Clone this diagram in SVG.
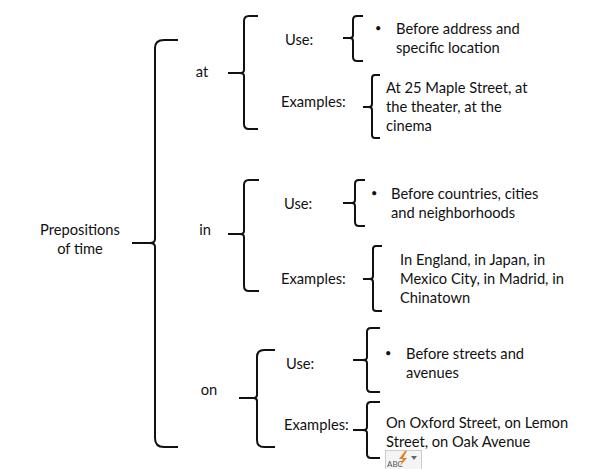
<svg xmlns="http://www.w3.org/2000/svg" width="596" height="469" viewBox="0 0 596 469">
<style>
text{font-family:"Lato","Open Sans","Liberation Sans",sans-serif;font-size:14.7px;fill:#111}
.m{text-anchor:middle}
.d{font-size:11px}
.b{fill:none;stroke:#111;stroke-width:2;stroke-linecap:butt;stroke-linejoin:round}
</style>
<rect width="596" height="469" fill="#fff"/>
<g id="connectors">
<path class="b" d="M178 40H164Q155 40 155 48V239Q155 243 150 243H132M150 243Q155 243 155 247V438Q155 447 164 447H178"/>
<path class="b" d="M258 16H249Q244 16 244 21V70Q244 73 240 73H228M240 73Q244 73 244 76V124Q244 129 249 129H258"/>
<path class="b" d="M363 16H357Q353 16 353 20V35Q353 38 350 38H343M350 38Q353 38 353 41V57Q353 61 357 61H363"/>
<path class="b" d="M380 75H375Q372 75 372 78V104Q372 107 369 107H363M369 107Q372 107 372 110V135Q372 138 375 138H380"/>
<path class="b" d="M259 180H249Q244 180 244 185V231Q244 234 240 234H228M240 234Q244 234 244 237V286Q244 291 249 291H259"/>
<path class="b" d="M365 180H359Q355 180 355 184V200Q355 203 352 203H343M352 203Q355 203 355 206V222Q355 226 359 226H365"/>
<path class="b" d="M382 246H376Q373 246 373 249V276Q373 279 370 279H363M370 279Q373 279 373 282V308Q373 311 376 311H382"/>
<path class="b" d="M275 350H264Q257 350 257 357V395Q257 398 253 398H239M253 398Q257 398 257 401V440Q257 447 264 447H275"/>
<path class="b" d="M380 328H371Q367 328 367 332V357Q367 360 363 360H353M363 360Q367 360 367 363V388Q367 392 371 392H380"/>
<path class="b" d="M380 402H371Q367 402 367 406V427Q367 430 363 430H353M363 430Q367 430 367 433V454Q367 458 371 458H380"/>
</g>
<g id="root"><text class="m" x="80" y="235">Prepositions</text><text class="m" x="80" y="254">of time</text></g>
<g id="at"><text class="m" x="202" y="77">at</text></g>
<g id="in"><text class="m" x="205" y="235">in</text></g>
<g id="on"><text class="m" x="209" y="395">on</text></g>
<g id="at-use"><text x="285" y="45">Use:</text></g>
<g id="at-examples"><text x="281" y="107">Examples:</text></g>
<g id="in-use"><text x="284" y="209">Use:</text></g>
<g id="in-examples"><text x="281" y="284">Examples:</text></g>
<g id="on-use"><text x="286" y="369">Use:</text></g>
<g id="on-examples"><text x="284" y="430">Examples:</text></g>
<g id="at-use-text"><text class="d" x="375" y="32">•</text><text x="396" y="34">Before address and</text><text x="396" y="53">specific location</text></g>
<g id="at-examples-text"><text x="386" y="93">At 25 Maple Street, at</text><text x="386" y="112">the theater, at the</text><text x="386" y="131">cinema</text></g>
<g id="in-use-text"><text class="d" x="371" y="197">•</text><text x="391" y="199">Before countries, cities</text><text x="391" y="218">and neighborhoods</text></g>
<g id="in-examples-text"><text x="400" y="265">In England, in Japan, in</text><text x="400" y="284">Mexico City, in Madrid, in</text><text x="400" y="303">Chinatown</text></g>
<g id="on-use-text"><text class="d" x="385" y="357">•</text><text x="406" y="359">Before streets and</text><text x="406" y="378">avenues</text></g>
<g id="on-examples-text"><text x="386" y="428">On Oxford Street, on Lemon</text><text x="386" y="447">Street, on Oak Avenue</text></g>
<g id="autocorrect-icon">
<rect x="385.500" y="450.500" width="36" height="22" fill="#f4f4f4" stroke="#ccc"/>
<text x="387" y="467" style="font-size:8px;fill:#555">ABC</text>
<path d="M405 451L399 459H403L400 466L407 458H403L407 451Z" fill="#e8811c"/>
<path d="M411 456H417L414 460Z" fill="#666"/>
</g>
</svg>
